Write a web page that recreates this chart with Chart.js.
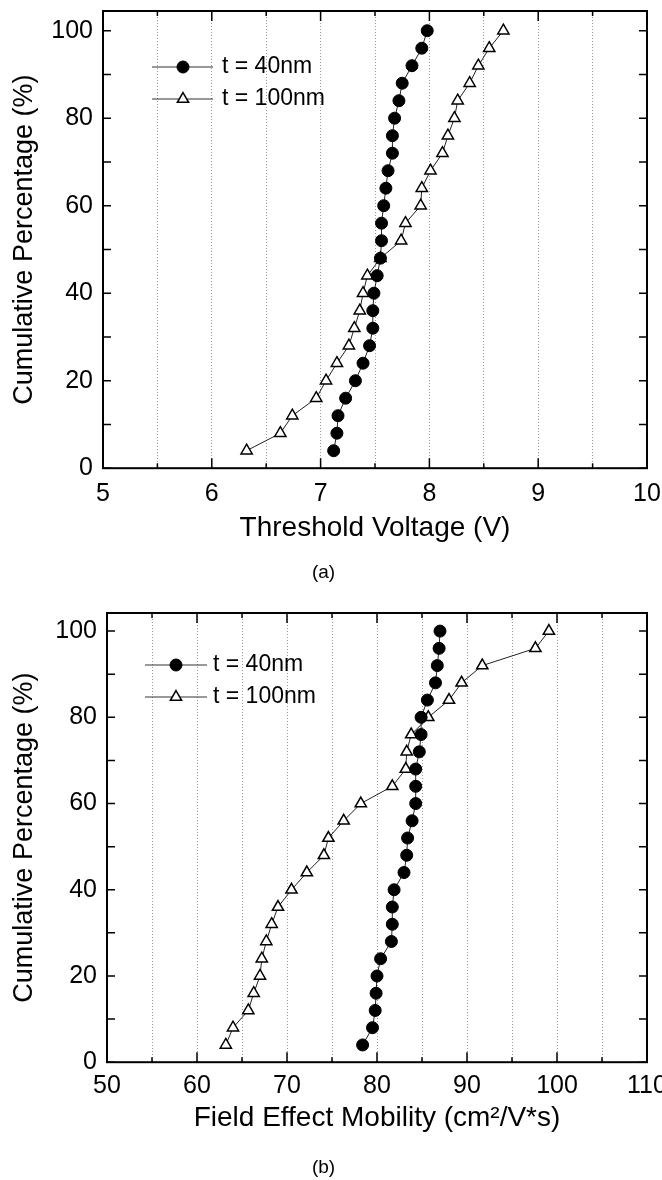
<!DOCTYPE html>
<html lang="en">
<head>
    <meta charset="UTF-8">
    <title>Cumulative distributions</title>
    <script src="https://cdn.jsdelivr.net/npm/chart.js"></script>
    <style>
        body { margin: 0; background: #fff; }
        .panel { position: absolute; left: 0; width: 662px; height: 590px; }
    </style>
</head>
<body>
    <div class="panel" style="top:0"><canvas id="chartA" width="662" height="590"></canvas></div>
    <div class="panel" style="top:590px"><canvas id="chartB" width="662" height="590"></canvas></div>

    <script>
        // cumulative percentage of each sorted device
        const percent = [4, 8, 12, 16, 20, 24, 28, 32, 36, 40, 44, 48, 52,
                         56, 60, 64, 68, 72, 76, 80, 84, 88, 92, 96, 100];

        // (a) threshold voltage, V
        const vth40 = [7.12, 7.15, 7.16, 7.23, 7.32, 7.39, 7.45, 7.48, 7.48, 7.49, 7.52, 7.55, 7.56,
                       7.56, 7.58, 7.60, 7.62, 7.66, 7.66, 7.68, 7.72, 7.75, 7.84, 7.93, 7.98];
        const vth100 = [6.32, 6.63, 6.74, 6.96, 7.05, 7.15, 7.26, 7.31, 7.36, 7.39, 7.43, 7.55, 7.74,
                        7.78, 7.92, 7.93, 8.01, 8.12, 8.17, 8.23, 8.26, 8.37, 8.45, 8.55, 8.68];

        // (b) field effect mobility, cm2/V*s
        const mob40 = [78.4, 79.5, 79.8, 79.9, 80.0, 80.4, 81.6, 81.7, 81.7, 81.9, 83.0, 83.3, 83.4,
                       83.9, 84.3, 84.3, 84.3, 84.7, 84.9, 84.9, 85.6, 86.5, 86.7, 86.9, 87.0];
        const mob100 = [63.2, 64.0, 65.7, 66.3, 67.0, 67.2, 67.7, 68.3, 69.0, 70.5, 72.2, 74.1, 74.6,
                        76.3, 78.2, 81.7, 83.2, 83.3, 83.8, 85.7, 88.0, 89.4, 91.7, 97.6, 99.1];

        const seriesNames = ["t = 40nm", "t = 100nm"];
        const yTicks = [0, 20, 40, 60, 80, 100];

        const FONT = "'Liberation Sans', Arial, sans-serif";

        function points(xs) {
            return xs.map((x, i) => ({ x: x, y: percent[i] }));
        }

        function datasets(a, b) {
            return [{
                label: seriesNames[0],
                data: points(a),
                showLine: true,
                borderColor: "#222",
                borderWidth: 1,
                pointStyle: "circle",
                pointRadius: 6,
                pointBackgroundColor: "#000",
                pointBorderColor: "#000",
                pointBorderWidth: 1
            }, {
                label: seriesNames[1],
                data: points(b),
                showLine: true,
                borderColor: "#222",
                borderWidth: 1,
                pointStyle: "triangle",
                pointRadius: 6.5,
                pointBackgroundColor: "#fff",
                pointBorderColor: "#000",
                pointBorderWidth: 1.5
            }];
        }

        // frame, inward ticks on all four sides, and the line+marker legend
        const framePlugin = {
            id: "frame",
            afterDraw(chart, args, opts) {
                const ctx = chart.ctx;
                const a = chart.chartArea;
                ctx.save();
                ctx.strokeStyle = "#000";
                ctx.lineWidth = 1.5;
                chart.scales.x.ticks.forEach(t => {
                    const px = chart.scales.x.getPixelForValue(t.value);
                    const len = t.label !== "" ? 10 : 5;
                    ctx.beginPath();
                    ctx.moveTo(px, a.bottom); ctx.lineTo(px, a.bottom - len);
                    ctx.moveTo(px, a.top); ctx.lineTo(px, a.top + len);
                    ctx.stroke();
                });
                chart.scales.y.ticks.forEach(t => {
                    const py = chart.scales.y.getPixelForValue(t.value);
                    ctx.beginPath();
                    ctx.moveTo(a.left, py); ctx.lineTo(a.left + 8, py);
                    ctx.moveTo(a.right, py); ctx.lineTo(a.right - 8, py);
                    ctx.stroke();
                });
                ctx.lineWidth = 2;
                ctx.strokeRect(a.left, a.top, a.right - a.left, a.bottom - a.top);

                // legend
                chart.data.datasets.forEach((ds, i) => {
                    const y = a.top + opts.legendY[i];
                    ctx.strokeStyle = "#333";
                    ctx.lineWidth = 1;
                    ctx.beginPath();
                    ctx.moveTo(a.left + opts.lineFrom, y);
                    ctx.lineTo(a.left + opts.lineTo, y);
                    ctx.stroke();
                    ctx.fillStyle = ds.pointBackgroundColor;
                    ctx.strokeStyle = ds.pointBorderColor;
                    ctx.lineWidth = ds.pointBorderWidth;
                    Chart.helpers.drawPoint(ctx, {
                        pointStyle: ds.pointStyle,
                        radius: ds.pointRadius,
                        borderWidth: ds.pointBorderWidth,
                        rotation: 0
                    }, a.left + opts.markerX, y);
                    ctx.fillStyle = "#000";
                    ctx.font = "23px " + FONT;
                    ctx.textAlign = "left";
                    ctx.textBaseline = "middle";
                    ctx.fillText(ds.label, a.left + opts.textX, y);
                });
                ctx.restore();
            }
        };

        function makeChart(id, cfg) {
            const isMajor = v => Math.abs(v / cfg.majorStep - Math.round(v / cfg.majorStep)) < 1e-6;
            new Chart(document.getElementById(id).getContext("2d"), {
                type: "scatter",
                data: { datasets: datasets(cfg.a, cfg.b) },
                options: {
                    responsive: false,
                    animation: false,
                    events: [],
                    layout: { padding: { top: cfg.top, right: 15, left: 0, bottom: 0 } },
                    scales: {
                        x: {
                            type: "linear",
                            min: cfg.xMin,
                            max: cfg.xMax,
                            grid: { color: "#9a9a9a", lineWidth: 1, drawTicks: false },
                            border: { display: false, dash: [1, 2] },
                            ticks: {
                                stepSize: cfg.minorStep,
                                padding: cfg.tickPad,
                                maxRotation: 0,
                                autoSkip: false,
                                color: "#000",
                                font: { family: FONT, size: 25 },
                                callback: v => isMajor(v) ? String(Math.round(v)) : ""
                            },
                            title: {
                                display: true,
                                text: cfg.xTitle,
                                color: "#000",
                                font: { family: FONT, size: 28 },
                                padding: { top: 0, bottom: cfg.titlePad }
                            },
                            afterFit: s => {
                                s.height = cfg.xAxisH;
                                s.paddingLeft = 0;
                                s.paddingRight = 0;
                            }
                        },
                        y: {
                            type: "linear",
                            min: 0,
                            max: cfg.yMax,
                            grid: { display: false, drawTicks: false },
                            border: { display: false },
                            ticks: {
                                stepSize: 10,
                                includeBounds: false,
                                padding: 10,
                                color: "#000",
                                font: { family: FONT, size: 25 },
                                callback: v => yTicks.includes(v) ? String(v) : ""
                            },
                            title: {
                                display: true,
                                text: "Cumulative Percentage (%)",
                                color: "#000",
                                font: { family: FONT, size: 27 },
                                padding: { top: 8, bottom: 0 }
                            },
                            afterFit: s => {
                                s.width = cfg.yAxisW;
                                s.paddingTop = 0;
                                s.paddingBottom = 0;
                            }
                        }
                    },
                    plugins: {
                        legend: { display: false },
                        tooltip: { enabled: false },
                        title: {
                            display: true,
                            position: "bottom",
                            text: cfg.caption,
                            color: "#000",
                            font: { family: FONT, size: 19, weight: "normal" },
                            padding: { top: 0, bottom: cfg.captionPad }
                        },
                        frame: cfg.legend
                    }
                },
                plugins: [framePlugin]
            });
        }

        makeChart("chartA", {
            a: vth40, b: vth100,
            xMin: 5, xMax: 10, minorStep: 0.5, majorStep: 1,
            yMax: 104.5, top: 11, yAxisW: 103, xAxisH: 93,
            tickPad: 11, titlePad: 16, captionPad: 6,
            xTitle: "Threshold Voltage (V)", caption: "(a)",
            legend: { legendY: [56, 88], lineFrom: 49, lineTo: 110, markerX: 80, textX: 119 }
        });

        makeChart("chartB", {
            a: mob40, b: mob100,
            xMin: 50, xMax: 110, minorStep: 5, majorStep: 10,
            yMax: 104.2, top: 23, yAxisW: 107, xAxisH: 94,
            tickPad: 9, titlePad: 21, captionPad: 1,
            xTitle: "Field Effect Mobility (cm\u00b2/V*s)", caption: "(b)",
            legend: { legendY: [52, 84], lineFrom: 38, lineTo: 100, markerX: 69, textX: 106 }
        });
    </script>
</body>
</html>
